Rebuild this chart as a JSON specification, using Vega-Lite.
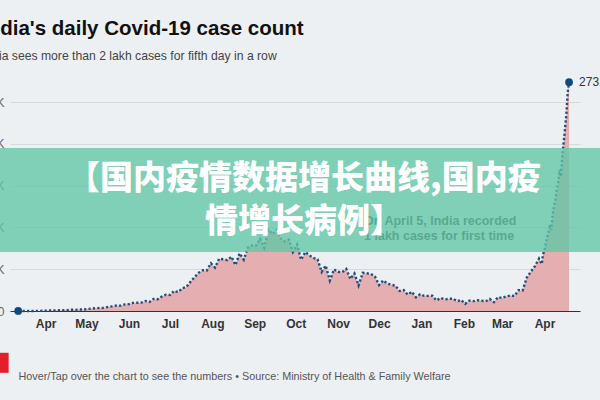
{
  "$schema": "https://vega.github.io/schema/vega-lite/v6.json",
  "autosize": {"type": "none"},
  "width": 570,
  "height": 234,
  "padding": {"left": 10, "top": 77, "right": 20, "bottom": 89},
  "background": "#edf0f3",
  "title": {
    "text": "India's daily Covid-19 case count",
    "subtitle": "India sees more than 2 lakh cases for fifth day in a row",
    "anchor": "start",
    "frame": "group",
    "dx": -28,
    "offset": 14,
    "font": "Liberation Sans",
    "fontSize": 20.5,
    "fontWeight": "bold",
    "color": "#111111",
    "subtitleFont": "Liberation Sans",
    "subtitleFontSize": 12.2,
    "subtitleColor": "#444444",
    "subtitlePadding": 10
  },
  "config": {
    "view": {"stroke": null},
    "axis": {"labelFont": "Liberation Sans"}
  },
  "data": {
    "values": [
      {"date": "2020-03-12", "cases": 10},
      {"date": "2020-03-15", "cases": 25},
      {"date": "2020-03-18", "cases": 30},
      {"date": "2020-03-21", "cases": 80},
      {"date": "2020-03-24", "cases": 90},
      {"date": "2020-03-27", "cases": 150},
      {"date": "2020-03-30", "cases": 230},
      {"date": "2020-04-02", "cases": 500},
      {"date": "2020-04-05", "cases": 550},
      {"date": "2020-04-08", "cases": 600},
      {"date": "2020-04-11", "cases": 900},
      {"date": "2020-04-14", "cases": 1000},
      {"date": "2020-04-17", "cases": 1100},
      {"date": "2020-04-20", "cases": 1500},
      {"date": "2020-04-23", "cases": 1400},
      {"date": "2020-04-26", "cases": 1800},
      {"date": "2020-04-29", "cases": 1700},
      {"date": "2020-05-02", "cases": 2500},
      {"date": "2020-05-05", "cases": 3000},
      {"date": "2020-05-08", "cases": 3300},
      {"date": "2020-05-11", "cases": 3600},
      {"date": "2020-05-14", "cases": 3800},
      {"date": "2020-05-17", "cases": 5000},
      {"date": "2020-05-20", "cases": 5600},
      {"date": "2020-05-23", "cases": 6600},
      {"date": "2020-05-26", "cases": 6400},
      {"date": "2020-05-29", "cases": 7900},
      {"date": "2020-06-01", "cases": 8200},
      {"date": "2020-06-04", "cases": 9700},
      {"date": "2020-06-07", "cases": 9900},
      {"date": "2020-06-10", "cases": 10000},
      {"date": "2020-06-13", "cases": 12000},
      {"date": "2020-06-16", "cases": 10700},
      {"date": "2020-06-19", "cases": 14500},
      {"date": "2020-06-22", "cases": 14000},
      {"date": "2020-06-25", "cases": 17300},
      {"date": "2020-06-28", "cases": 19600},
      {"date": "2020-07-01", "cases": 19100},
      {"date": "2020-07-04", "cases": 24000},
      {"date": "2020-07-07", "cases": 22600},
      {"date": "2020-07-10", "cases": 27100},
      {"date": "2020-07-13", "cases": 28700},
      {"date": "2020-07-16", "cases": 34900},
      {"date": "2020-07-19", "cases": 40400},
      {"date": "2020-07-22", "cases": 45700},
      {"date": "2020-07-25", "cases": 48700},
      {"date": "2020-07-28", "cases": 48500},
      {"date": "2020-07-31", "cases": 57100},
      {"date": "2020-08-03", "cases": 52000},
      {"date": "2020-08-06", "cases": 62500},
      {"date": "2020-08-09", "cases": 62000},
      {"date": "2020-08-12", "cases": 60900},
      {"date": "2020-08-15", "cases": 65000},
      {"date": "2020-08-18", "cases": 55000},
      {"date": "2020-08-21", "cases": 69000},
      {"date": "2020-08-24", "cases": 61400},
      {"date": "2020-08-27", "cases": 75800},
      {"date": "2020-08-30", "cases": 78500},
      {"date": "2020-09-02", "cases": 78300},
      {"date": "2020-09-05", "cases": 86400},
      {"date": "2020-09-08", "cases": 75800},
      {"date": "2020-09-11", "cases": 97500},
      {"date": "2020-09-14", "cases": 92000},
      {"date": "2020-09-17", "cases": 96400},
      {"date": "2020-09-20", "cases": 86900},
      {"date": "2020-09-23", "cases": 83300},
      {"date": "2020-09-26", "cases": 85300},
      {"date": "2020-09-29", "cases": 70600},
      {"date": "2020-10-02", "cases": 79500},
      {"date": "2020-10-05", "cases": 61300},
      {"date": "2020-10-08", "cases": 70500},
      {"date": "2020-10-11", "cases": 66700},
      {"date": "2020-10-14", "cases": 63500},
      {"date": "2020-10-17", "cases": 61900},
      {"date": "2020-10-20", "cases": 46800},
      {"date": "2020-10-23", "cases": 54300},
      {"date": "2020-10-26", "cases": 36500},
      {"date": "2020-10-29", "cases": 49800},
      {"date": "2020-11-01", "cases": 46900},
      {"date": "2020-11-04", "cases": 46300},
      {"date": "2020-11-07", "cases": 50300},
      {"date": "2020-11-10", "cases": 38300},
      {"date": "2020-11-13", "cases": 44900},
      {"date": "2020-11-16", "cases": 30500},
      {"date": "2020-11-19", "cases": 45600},
      {"date": "2020-11-22", "cases": 45200},
      {"date": "2020-11-25", "cases": 44400},
      {"date": "2020-11-28", "cases": 41300},
      {"date": "2020-12-01", "cases": 31100},
      {"date": "2020-12-04", "cases": 36600},
      {"date": "2020-12-07", "cases": 32900},
      {"date": "2020-12-10", "cases": 31500},
      {"date": "2020-12-13", "cases": 30200},
      {"date": "2020-12-16", "cases": 24000},
      {"date": "2020-12-19", "cases": 25100},
      {"date": "2020-12-22", "cases": 19500},
      {"date": "2020-12-25", "cases": 23100},
      {"date": "2020-12-28", "cases": 16400},
      {"date": "2020-12-31", "cases": 20000},
      {"date": "2021-01-03", "cases": 18200},
      {"date": "2021-01-06", "cases": 18100},
      {"date": "2021-01-09", "cases": 18200},
      {"date": "2021-01-12", "cases": 12600},
      {"date": "2021-01-15", "cases": 15600},
      {"date": "2021-01-18", "cases": 13800},
      {"date": "2021-01-21", "cases": 14500},
      {"date": "2021-01-24", "cases": 14800},
      {"date": "2021-01-27", "cases": 11700},
      {"date": "2021-01-30", "cases": 13100},
      {"date": "2021-02-02", "cases": 8600},
      {"date": "2021-02-05", "cases": 12400},
      {"date": "2021-02-08", "cases": 11800},
      {"date": "2021-02-11", "cases": 12900},
      {"date": "2021-02-14", "cases": 12200},
      {"date": "2021-02-17", "cases": 11600},
      {"date": "2021-02-20", "cases": 14300},
      {"date": "2021-02-23", "cases": 10600},
      {"date": "2021-02-26", "cases": 16600},
      {"date": "2021-03-01", "cases": 15500},
      {"date": "2021-03-04", "cases": 17400},
      {"date": "2021-03-07", "cases": 18600},
      {"date": "2021-03-10", "cases": 17900},
      {"date": "2021-03-13", "cases": 24900},
      {"date": "2021-03-16", "cases": 24500},
      {"date": "2021-03-19", "cases": 39700},
      {"date": "2021-03-22", "cases": 46900},
      {"date": "2021-03-25", "cases": 53500},
      {"date": "2021-03-28", "cases": 62700},
      {"date": "2021-03-30", "cases": 56200},
      {"date": "2021-03-31", "cases": 68000},
      {"date": "2021-04-01", "cases": 72300},
      {"date": "2021-04-02", "cases": 81500},
      {"date": "2021-04-03", "cases": 89100},
      {"date": "2021-04-04", "cases": 93200},
      {"date": "2021-04-05", "cases": 103600},
      {"date": "2021-04-06", "cases": 96900},
      {"date": "2021-04-07", "cases": 115700},
      {"date": "2021-04-08", "cases": 126300},
      {"date": "2021-04-09", "cases": 131900},
      {"date": "2021-04-10", "cases": 145300},
      {"date": "2021-04-11", "cases": 152900},
      {"date": "2021-04-12", "cases": 168900},
      {"date": "2021-04-13", "cases": 160700},
      {"date": "2021-04-14", "cases": 184300},
      {"date": "2021-04-15", "cases": 200700},
      {"date": "2021-04-16", "cases": 217400},
      {"date": "2021-04-17", "cases": 234700},
      {"date": "2021-04-18", "cases": 261500},
      {"date": "2021-04-19", "cases": 273810}
    ]
  },
  "encoding": {
    "x": {
      "field": "date",
      "type": "temporal",
      "scale": {"type": "utc", "domain": [{"year": 2020, "month": 3, "date": 6, "utc": true}, {"year": 2021, "month": 4, "date": 27, "utc": true}]},
      "axis": {
        "title": "Hover/Tap over the chart to see the numbers \u2022 Source: Ministry of Health & Family Welfare",
        "titleFont": "Liberation Sans",
        "titleFontSize": 10.8,
        "titleFontWeight": "normal",
        "titleColor": "#555555",
        "titleAlign": "left",
        "titleAnchor": "start",
        "titleBaseline": "middle",
        "titleX": 8,
        "titleY": 65,
        "format": "%b",
        "tickCount": {"interval": "month", "step": 1},
        "labelFontWeight": "bold",
        "labelFontSize": 12,
        "labelColor": "#333333",
        "labelPadding": 7,
        "labelFlush": false,
        "ticks": false,
        "grid": false,
        "domainColor": "#333333",
        "domainWidth": 1
      }
    },
    "y": {
      "field": "cases",
      "type": "quantitative",
      "scale": {"domain": [0, 280000], "nice": false},
      "axis": {
        "title": null,
        "values": [0, 50000, 100000, 150000, 200000, 250000],
        "labelExpr": "datum.value == 0 ? '0' : datum.value / 1000 + 'K'",
        "labelFontSize": 12,
        "labelColor": "#666666",
        "labelPadding": 6,
        "ticks": false,
        "domain": false,
        "gridColor": "#d6dadf",
        "gridWidth": 1
      }
    }
  },
  "layer": [
    {"mark": {"type": "area", "color": "#e5aeb1"}},
    {"mark": {"type": "line", "color": "#1d4f7c", "strokeWidth": 2.4, "strokeDash": [2.2, 2.2]}},
    {
      "transform": [{"filter": "(utcyear(datum.date) == 2020 && utcmonth(datum.date) == 2 && utcdate(datum.date) == 12) || (utcyear(datum.date) == 2021 && utcmonth(datum.date) == 3 && utcdate(datum.date) == 19)"}],
      "mark": {"type": "point", "filled": true, "size": 60, "color": "#0f4a7d", "opacity": 1}
    },
    {
      "transform": [{"filter": "utcyear(datum.date) == 2021 && utcmonth(datum.date) == 3 && utcdate(datum.date) == 19"}],
      "mark": {"type": "text", "align": "left", "baseline": "middle", "dx": 10, "fontSize": 12, "color": "#333333", "font": "Liberation Sans"},
      "encoding": {"text": {"field": "cases", "type": "quantitative", "format": ","}}
    },
    {
      "data": {"values": [{"date": "2020-11-20", "cases": 108000, "note": ["On April 5, India recorded", "1 lakh cases for first time"]}]},
      "mark": {"type": "text", "align": "left", "baseline": "middle", "fontSize": 12.5, "fontWeight": "bold", "lineHeight": 15, "color": "#3a3a3a", "font": "Liberation Sans"},
      "encoding": {"text": {"field": "note"}}
    },
    {
      "data": {"values": [{"start": "2020-02-15", "end": "2021-05-20", "low": 70600, "high": 195000}]},
      "mark": {"type": "rect", "color": "#62c6a6", "opacity": 0.78, "clip": false},
      "encoding": {
        "x": {"field": "start", "type": "temporal"},
        "x2": {"field": "end"},
        "y": {"field": "low", "type": "quantitative"},
        "y2": {"field": "high"}
      }
    },
    {
      "data": {"values": [{"date": "2020-10-07", "cases": 158000, "banner": ["\u3010\u56fd\u5185\u75ab\u60c5\u6570\u636e\u589e\u957f\u66f2\u7ebf,\u56fd\u5185\u75ab", "\u60c5\u589e\u957f\u75c5\u4f8b\u3011"]}]},
      "mark": {"type": "text", "align": "center", "baseline": "middle", "fontSize": 33, "fontWeight": 900, "lineHeight": 43, "color": "#ffffff", "font": "Noto Sans CJK SC"},
      "encoding": {"text": {"field": "banner"}}
    },
    {
      "data": {"values": [{"start": "2020-02-27", "end": "2020-03-05", "low": -74000, "high": -50000}]},
      "mark": {"type": "rect", "color": "#e3202a", "clip": false},
      "encoding": {
        "x": {"field": "start", "type": "temporal"},
        "x2": {"field": "end"},
        "y": {"field": "low", "type": "quantitative"},
        "y2": {"field": "high"}
      }
    }
  ]
}
